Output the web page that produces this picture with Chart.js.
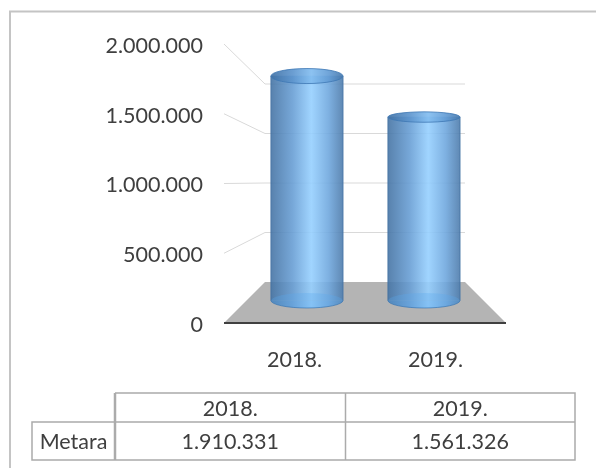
<!DOCTYPE html>
<html>
<head>
<meta charset="utf-8">
<script src="https://cdn.jsdelivr.net/npm/chart.js@4/dist/chart.umd.min.js"></script>
<style>
  html, body { margin: 0; padding: 0; background: #fff; }
  canvas { display: block; }
</style>
</head>
<body>
<canvas id="chart" width="596" height="468"></canvas>
<script>
const categories = ['2018.', '2019.'];
const metara = [1910331, 1561326];
const seriesName = 'Metara';

const FONT = 'Lato, Carlito, sans-serif';
const FONT_SIZE = 21.5;
const TEXT = '#3f3f3f';

// Pseudo-3D box: the back wall sits inset from the front plane.
const backInsetX = 41;
const backFloorY = 282;
const backScale = 198 / 279;
const topRy = [7.5, 5.2];
const baseRy = 7.5;

const grouped = n => String(n).replace(/\B(?=(\d{3})+(?!\d))/g, '.');

function barGradient(ctx) {
  const scale = ctx.chart.scales.xBar;
  const cx = scale ? scale.getPixelForValue(ctx.dataIndex) : NaN;
  // The scales have no pixel range until the first layout has run.
  if (!Number.isFinite(cx)) return '#6fa8dc';
  const g = ctx.chart.ctx.createLinearGradient(cx - 36, 0, cx + 36, 0);
  g.addColorStop(0, 'rgba(70,116,164,0.9)');
  g.addColorStop(0.3, 'rgba(104,158,212,0.9)');
  g.addColorStop(0.56, 'rgba(150,208,255,0.9)');
  g.addColorStop(0.8, 'rgba(112,168,222,0.9)');
  g.addColorStop(1, 'rgba(78,124,172,0.9)');
  return g;
}

// Back wall, side wall and floor, behind the cylinders.
const roomPlugin = {
  id: 'room',
  beforeDatasetsDraw(chart) {
    const { ctx, chartArea: a, scales: { y } } = chart;
    const front0 = y.getPixelForValue(0);
    const back = py => backFloorY + (py - front0) * backScale;
    ctx.save();
    ctx.strokeStyle = '#d9d9d9';
    ctx.lineWidth = 1;
    y.ticks.forEach(t => {
      if (t.value === 0) return;
      const py = y.getPixelForValue(t.value);
      ctx.beginPath();
      ctx.moveTo(a.left, py);
      ctx.lineTo(a.left + backInsetX, back(py));
      ctx.lineTo(a.right - backInsetX, back(py));
      ctx.stroke();
    });
    ctx.fillStyle = '#b4b4b4';
    ctx.beginPath();
    ctx.moveTo(a.left + backInsetX, backFloorY);
    ctx.lineTo(a.right - backInsetX, backFloorY);
    ctx.lineTo(a.right, front0);
    ctx.lineTo(a.left, front0);
    ctx.closePath();
    ctx.fill();
    ctx.strokeStyle = '#404040';
    ctx.lineWidth = 2;
    ctx.beginPath();
    ctx.moveTo(a.left, front0);
    ctx.lineTo(a.right, front0);
    ctx.stroke();
    ctx.restore();
  }
};

// Caps and outlines that turn each bar into a cylinder.
const cylinderPlugin = {
  id: 'cylinder',
  afterDatasetsDraw(chart) {
    const { ctx } = chart;
    chart.getDatasetMeta(0).data.forEach((bar, i) => {
      const rx = bar.width / 2;
      const left = bar.x - rx, right = bar.x + rx;
      const fill = barGradient({ chart, dataIndex: i });
      ctx.save();

      // Rounded base below the bar's foot
      ctx.beginPath();
      ctx.ellipse(bar.x, bar.base, rx, baseRy, 0, 0, Math.PI);
      ctx.closePath();
      ctx.fillStyle = fill;
      ctx.fill();
      ctx.fillStyle = 'rgba(90,170,240,0.3)';
      ctx.beginPath();
      ctx.ellipse(bar.x, bar.base, rx, baseRy, 0, 0, Math.PI * 2);
      ctx.fill();
      ctx.strokeStyle = 'rgba(60,120,180,0.7)';
      ctx.lineWidth = 1;
      ctx.beginPath();
      ctx.ellipse(bar.x, bar.base, rx, baseRy, 0, 0, Math.PI);
      ctx.stroke();

      // Side walls
      ctx.strokeStyle = 'rgba(60,110,160,0.55)';
      ctx.beginPath();
      ctx.moveTo(left, bar.y);
      ctx.lineTo(left, bar.base);
      ctx.moveTo(right, bar.y);
      ctx.lineTo(right, bar.base);
      ctx.stroke();

      // Open top: a darker rim around a softly shaded face
      ctx.beginPath();
      ctx.ellipse(bar.x, bar.y, rx, topRy[i], 0, 0, Math.PI * 2);
      ctx.fillStyle = fill;
      ctx.fill();
      ctx.fillStyle = 'rgba(50,110,175,0.18)';
      ctx.fill();
      ctx.strokeStyle = 'rgba(62,120,180,0.8)';
      ctx.stroke();
      ctx.restore();
    });
  }
};

// Outer frame and the data table underneath the plot.
const tablePlugin = {
  id: 'table',
  afterDraw(chart) {
    const { ctx } = chart;
    const x0 = 32, x1 = 115, x2 = 345.5, x3 = 575;
    const y0 = 393, y1 = 422, y2 = 460;
    ctx.save();
    ctx.strokeStyle = '#c4c4c4';
    ctx.lineWidth = 2;
    ctx.beginPath();
    ctx.moveTo(10, 468);
    ctx.lineTo(10, 11.5);
    ctx.lineTo(596, 11.5);
    ctx.stroke();

    ctx.strokeStyle = '#ababab';
    ctx.lineWidth = 1.5;
    ctx.beginPath();
    ctx.moveTo(x1, y0); ctx.lineTo(x3, y0); ctx.lineTo(x3, y2); ctx.lineTo(x0, y2);
    ctx.lineTo(x0, y1); ctx.lineTo(x3, y1);
    ctx.moveTo(x2, y0); ctx.lineTo(x2, y2);
    ctx.stroke();
    ctx.lineWidth = 2.5;
    ctx.beginPath();
    ctx.moveTo(x1, y0); ctx.lineTo(x1, y2);
    ctx.stroke();

    ctx.fillStyle = TEXT;
    ctx.font = FONT_SIZE + 'px ' + FONT;
    ctx.textAlign = 'center';
    ctx.textBaseline = 'middle';
    const centers = [(x1 + x2) / 2, (x2 + x3) / 2];
    categories.forEach((c, i) => ctx.fillText(c, centers[i], 409));
    ctx.fillText(seriesName, (x0 + x1) / 2, 442);
    metara.forEach((v, i) => ctx.fillText(grouped(v), centers[i], 442));
    ctx.restore();
  }
};

new Chart(document.getElementById('chart'), {
  type: 'bar',
  data: {
    labels: categories,
    datasets: [{
      label: seriesName,
      data: metara.map((v, i) => ({ x: i, y: v })),
      xAxisID: 'xBar',
      yAxisID: 'yBar',
      backgroundColor: barGradient,
      borderWidth: 0,
      barThickness: 72
    }]
  },
  plugins: [roomPlugin, cylinderPlugin, tablePlugin],
  options: {
    responsive: false,
    animation: false,
    layout: { padding: { top: 44, right: 90, left: 0, bottom: 0 } },
    plugins: { legend: { display: false }, tooltip: { enabled: false } },
    scales: {
      // Front plane of the box, which carries the visible axes
      x: {
        type: 'category',
        offset: true,
        grid: { display: false, drawTicks: false },
        border: { display: false },
        ticks: { color: TEXT, font: { family: FONT, size: FONT_SIZE }, padding: 24, maxRotation: 0, autoSkip: false },
        afterFit(s) { s.height = 145; }
      },
      y: {
        min: 0,
        max: 2000000,
        grid: { display: false, drawTicks: false },
        border: { display: false },
        ticks: {
          stepSize: 500000,
          color: TEXT,
          font: { family: FONT, size: FONT_SIZE },
          padding: 21,
          labelOffset: 2,
          callback: v => grouped(v)
        },
        afterFit(s) { s.width = 224; }
      },
      // Middle plane of the box, where the cylinders stand
      xBar: { type: 'linear', display: false, offset: false, min: -0.709, max: 1.701 },
      yBar: { type: 'linear', display: false, min: -191500, max: 2183000 }
    }
  }
});
</script>
</body>
</html>
